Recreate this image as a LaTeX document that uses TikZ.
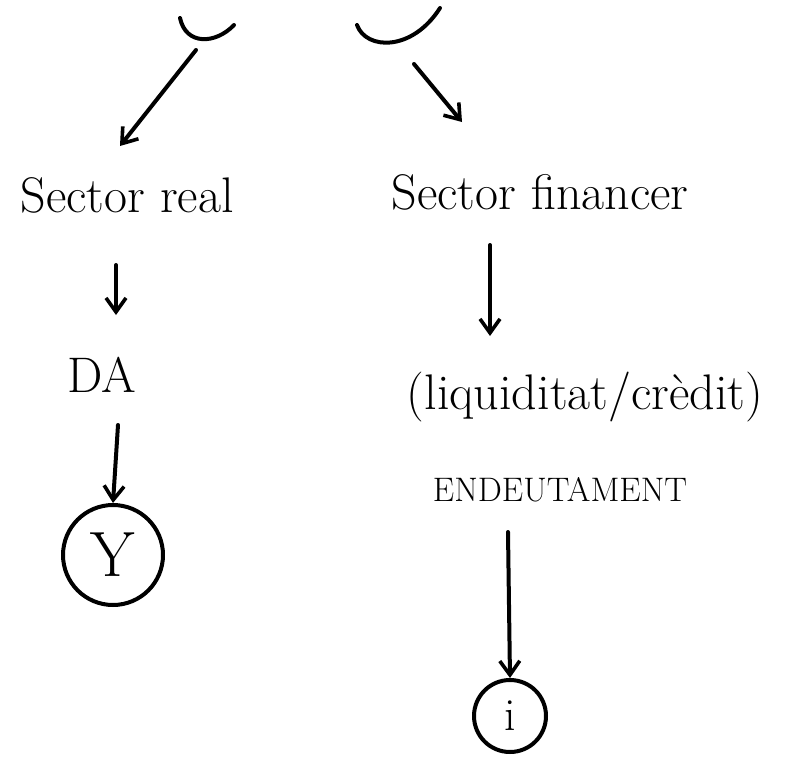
\documentclass[tikz,border=0pt]{standalone}
\usetikzlibrary{arrows.meta}
\begin{document}
\begin{tikzpicture}[x=1pt,y=-1pt,
  ink/.style={line width=4pt,line cap=round,line join=round},
  arr/.style={ink,-{Straight Barb[length=14pt,width=20pt,line width=3.6pt]}},
  lbl/.style={inner sep=0pt,font=\fontsize{50}{58}\selectfont},
  circ/.style={ink,draw,circle,inner sep=0pt}]
\useasboundingbox (0,0) rectangle (798,779);
% top cups
\draw[ink] (180,18) .. controls (186,46) and (216,44) .. (234,25);
\draw[ink] (357,25) .. controls (366,50) and (412,52) .. (440,8);
\coordinate (cupL) at (196,50);
\coordinate (cupR) at (414,64);
% texts
\node[lbl] (sr) at (127,195) {Sector real};
\node[lbl] (sf) at (540,192) {Sector financer};
\node[lbl] (da) at (102,375) {DA};
\node[lbl] (liq) at (585,397) {(liquiditat/crèdit)};
\node[inner sep=0pt,font=\fontsize{34}{40}\selectfont] (end) at (560,490) {ENDEUTAMENT};
\node[circ,minimum size=100pt,font=\fontsize{64}{70}\selectfont] (y) at (113,555) {Y};
\node[circ,minimum size=72pt,font=\fontsize{46}{50}\selectfont] (i) at (510,716) {i};
% arrows
\coordinate (aL) at (120,146);
\coordinate (aR) at (462,122);
\draw[arr] (cupL) -- (aL);
\draw[arr] (cupR) -- (aR);
\coordinate (d1) at (116,265);
\coordinate (d2) at (116,315);
\draw[arr] (d1) -- (d2);
\coordinate (d3) at (118,425);
\draw[arr] (d3) -- (y.north);
\coordinate (d4) at (490,245);
\coordinate (d5) at (490,336);
\draw[arr] (d4) -- (d5);
\coordinate (d6) at (508,532);
\draw[arr] (d6) -- (i.north);
\end{tikzpicture}
\end{document}
